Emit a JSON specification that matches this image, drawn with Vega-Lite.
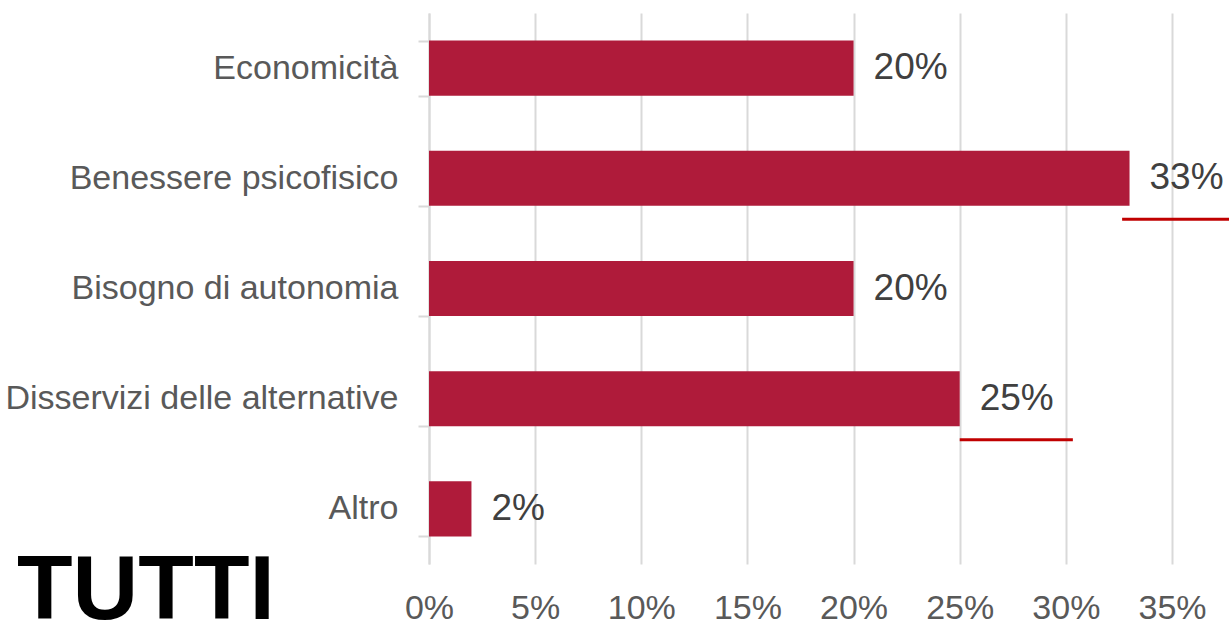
{
  "$schema": "https://vega.github.io/schema/vega-lite/v6.json",
  "width": 743,
  "height": 551,
  "autosize": {"type": "none"},
  "padding": {"left": 429, "top": 13, "right": 57, "bottom": 60},
  "background": "white",
  "config": {"view": {"stroke": null}, "font": "Liberation Sans"},
  "title": {
    "text": "TUTTI",
    "orient": "bottom",
    "anchor": "start",
    "frame": "group",
    "fontSize": 91,
    "fontWeight": "bold",
    "color": "#000000",
    "font": "Liberation Sans",
    "baseline": "alphabetic",
    "offset": -6,
    "dx": -412
  },
  "data": {
    "values": [
      {"cat": "Economicità", "share": 0.20},
      {"cat": "Benessere psicofisico", "share": 0.33},
      {"cat": "Bisogno di autonomia", "share": 0.20},
      {"cat": "Disservizi delle alternative", "share": 0.25},
      {"cat": "Altro", "share": 0.02}
    ]
  },
  "layer": [
    {
      "mark": {"type": "bar", "color": "#AF1B3A"},
      "encoding": {
        "y": {
          "field": "cat",
          "type": "nominal",
          "sort": ["Economicità", "Benessere psicofisico", "Bisogno di autonomia", "Disservizi delle alternative", "Altro"],
          "scale": {"paddingInner": 0.5, "paddingOuter": 0.25},
          "axis": {
            "title": null,
            "labelFontSize": 34,
            "labelColor": "#595959",
            "labelPadding": 20,
            "labelLimit": 600,
            "ticks": true,
            "tickSize": 11,
            "tickBand": "extent",
            "tickColor": "#D9D9D9",
            "tickWidth": 2,
            "domain": true,
            "domainColor": "#D9D9D9",
            "domainWidth": 2,
            "grid": false
          }
        },
        "x": {
          "field": "share",
          "type": "quantitative",
          "scale": {"domain": [0, 0.35], "nice": false},
          "axis": {
            "title": null,
            "values": [0, 0.05, 0.1, 0.15, 0.2, 0.25, 0.3, 0.35],
            "format": ".0%",
            "grid": true,
            "gridColor": "#D9D9D9",
            "gridWidth": 2,
            "domain": false,
            "ticks": false,
            "labelFontSize": 34,
            "labelColor": "#595959",
            "labelPadding": 27,
            "labelFlush": false,
            "labelOverlap": false
          }
        }
      }
    },
    {
      "mark": {"type": "text", "align": "left", "baseline": "middle", "dx": 20, "fontSize": 37, "color": "#404040"},
      "encoding": {
        "y": {"field": "cat", "type": "nominal", "sort": ["Economicità", "Benessere psicofisico", "Bisogno di autonomia", "Disservizi delle alternative", "Altro"]},
        "x": {"field": "share", "type": "quantitative", "scale": {"domain": [0, 0.35], "nice": false}},
        "text": {"field": "share", "type": "quantitative", "format": ".0%"}
      }
    },
    {
      "data": {
        "values": [
          {"cat": "Benessere psicofisico", "from": 0.3265, "to": 0.377},
          {"cat": "Disservizi delle alternative", "from": 0.25, "to": 0.3033}
        ]
      },
      "mark": {"type": "rule", "color": "#C00000", "strokeWidth": 3, "yOffset": 41},
      "encoding": {
        "y": {"field": "cat", "type": "nominal", "sort": ["Economicità", "Benessere psicofisico", "Bisogno di autonomia", "Disservizi delle alternative", "Altro"]},
        "x": {"field": "from", "type": "quantitative", "scale": {"domain": [0, 0.35], "nice": false}},
        "x2": {"field": "to"}
      }
    }
  ]
}
